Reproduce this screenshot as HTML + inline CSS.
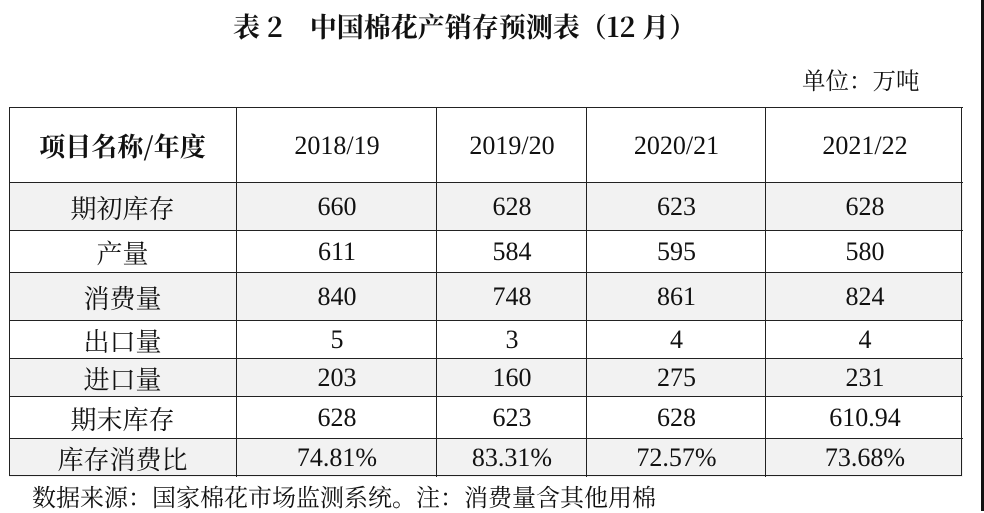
<!DOCTYPE html>
<html><head><meta charset="utf-8"><style>
body{margin:0;width:984px;height:511px;background:#fff;position:relative;overflow:hidden;font-family:"Liberation Serif","Noto Serif CJK SC",serif;color:#111}
.t{position:absolute;white-space:nowrap}
.r{position:absolute;left:9px;width:954px;border-top:1.5px solid #222}
.c{position:absolute;top:0;height:100%;display:flex;align-items:center;justify-content:center;font-size:26px}
.g{background:#f2f2f2}
</style></head><body>
<div class="t" style="left:233px;top:6px;font-size:27px;font-weight:bold;font-family:'Noto Serif CJK SC',serif">表 2　中国棉花产销存预测表（12 月）</div>
<div class="t" style="left:802px;top:62px;font-size:23.5px;font-family:'Noto Serif CJK SC',serif">单位：万吨</div>
<div id="tbl"></div>
<div class="t" style="left:32px;top:478px;font-size:24px;font-family:'Noto Serif CJK SC',serif">数据来源：国家棉花市场监测系统。注：消费量含其他用棉</div>
<div style="position:absolute;left:981px;top:0;width:3px;height:511px;background:#111"></div>
<script>
var rows=[[107,182,["项目名称/年度","2018/19","2019/20","2020/21","2021/22"],0],
[182,230,["期初库存","660","628","623","628"],1],
[230,272,["产量","611","584","595","580"],0],
[272,320,["消费量","840","748","861","824"],1],
[320,358,["出口量","5","3","4","4"],0],
[358,396,["进口量","203","160","275","231"],1],
[396,438,["期末库存","628","623","628","610.94"],0],
[438,476,["库存消费比","74.81%","83.31%","72.57%","73.68%"],1]];
var cols=[9,236,436,586,765,963];var h="";
rows.forEach(function(r,i){h+='<div class="r'+(r[3]?' g':'')+'" style="top:'+r[0]+'px;height:'+(r[1]-r[0])+'px">';
for(var j=0;j<5;j++){h+='<div class="c" style="left:'+(cols[j]-9)+'px;width:'+(cols[j+1]-cols[j])+'px;'+(i==0&&j==0?'font-weight:bold;':'')+(j==0?'font-family:\'Noto Serif CJK SC\',serif;':'')+(j>0?'border-left:1.5px solid #222;':'')+'">'+r[2][j]+'</div>';}
h+='</div>';});
h+='<div style="position:absolute;left:9px;top:107px;width:951px;height:367px;border:1.5px solid #222"></div>';
document.getElementById('tbl').innerHTML=h;
</script>
</body></html>
